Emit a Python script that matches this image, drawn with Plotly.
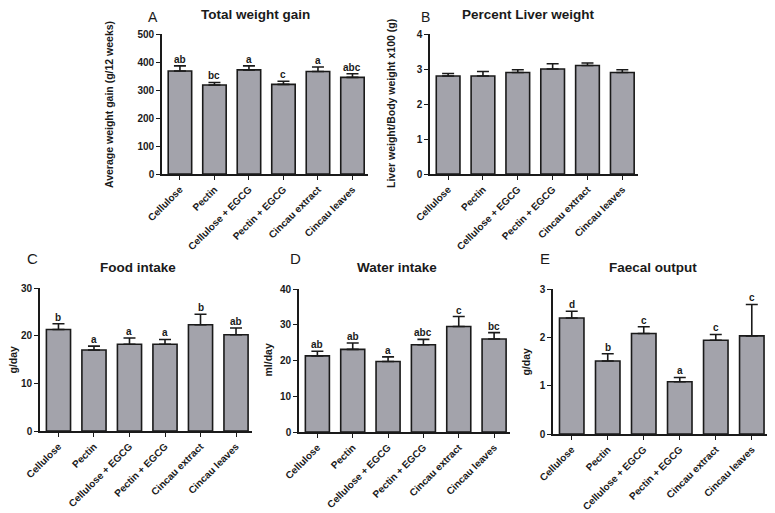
import plotly.graph_objects as go

categories = ["Cellulose", "Pectin", "Cellulose + EGCG", "Pectin + EGCG", "Cincau extract", "Cincau leaves"]

weight_gain = [368, 318, 372, 320, 366, 345]
weight_gain_err = [18, 9, 14, 11, 16, 13]
weight_gain_sig = ["ab", "bc", "a", "c", "a", "abc"]

liver_pct = [2.8, 2.8, 2.9, 3.0, 3.1, 2.9]
liver_pct_err = [0.07, 0.13, 0.08, 0.15, 0.07, 0.08]

food_intake = [21.3, 17.0, 18.2, 18.2, 22.3, 20.2]
food_intake_err = [1.2, 0.8, 1.3, 1.0, 2.2, 1.4]
food_intake_sig = ["b", "a", "a", "a", "b", "ab"]

water_intake = [21.3, 23.1, 19.7, 24.4, 29.5, 26.0]
water_intake_err = [1.3, 1.8, 1.3, 1.5, 2.8, 1.8]
water_intake_sig = ["ab", "ab", "a", "abc", "c", "bc"]

faecal_output = [2.40, 1.51, 2.08, 1.08, 1.94, 2.03]
faecal_output_err = [0.14, 0.15, 0.14, 0.09, 0.12, 0.65]
faecal_output_sig = ["d", "b", "c", "a", "c", "c"]

W, H = 775, 513
OFF = 8  # page body margin offset
FONT = "Liberation Sans, Arial, sans-serif"
BAR = "#a3a3ab"
INK = "#1a1a1a"

def px_x(p):
    return (p - OFF) / W

def px_y(p):
    return 1 - (p - OFF) / H

panels = [
    dict(v=weight_gain, e=weight_gain_err, s=weight_gain_sig, xd=(162, 368), yd=(174, 34), yr=500, dt=100,
         t="Total weight gain", tp=(255, 14), L="A", lp=(153, 12), yt="Average weight gain (g/12 weeks)", ytx=109),
    dict(v=liver_pct, e=liver_pct_err, s=None, xd=(430, 638), yd=(174, 34), yr=4, dt=1,
         t="Percent Liver weight", tp=(528, 14), L="B", lp=(425, 12), yt="Liver weight/Body weight x100 (g)", ytx=391),
    dict(v=food_intake, e=food_intake_err, s=food_intake_sig, xd=(40, 252), yd=(431, 288), yr=30, dt=10,
         t="Food intake", tp=(138, 267), L="C", lp=(32, 258), yt="g/day", ytx=12),
    dict(v=water_intake, e=water_intake_err, s=water_intake_sig, xd=(299, 510), yd=(432, 289), yr=40, dt=10,
         t="Water intake", tp=(397, 267), L="D", lp=(295, 258), yt="ml/day", ytx=267),
    dict(v=faecal_output, e=faecal_output_err, s=faecal_output_sig, xd=(553, 768), yd=(434, 289), yr=3, dt=1,
         t="Faecal output", tp=(653, 267), L="E", lp=(545, 258), yt="g/day", ytx=525),
]

fig = go.Figure()
annotations = []
layout = {}

for i, p in enumerate(panels):
    n = "" if i == 0 else str(i + 1)
    xa, ya = "x" + n, "y" + n
    fig.add_trace(go.Bar(
        x=categories, y=p["v"], xaxis=xa, yaxis=ya,
        marker=dict(color=BAR, line=dict(color=INK, width=1.6)),
        width=0.68,
        error_y=dict(type="data", symmetric=False, array=p["e"], arrayminus=[0] * 6,
                     color=INK, thickness=1.6, width=6),
        showlegend=False, hoverinfo="skip",
    ))
    layout["xaxis" + n] = dict(
        domain=[px_x(p["xd"][0]), px_x(p["xd"][1])], anchor=ya, automargin=False,
        range=[-0.52, 5.45], showline=True, linecolor=INK, linewidth=1.6,
        ticks="outside", ticklen=4, tickwidth=1.2, tickcolor=INK,
        tickangle=-45, tickfont=dict(family=FONT, size=10, color=INK, weight="bold"),
        showgrid=False, zeroline=False, fixedrange=True,
    )
    layout["yaxis" + n] = dict(
        domain=[px_y(p["yd"][0]), px_y(p["yd"][1])], anchor=xa, automargin=False,
        range=[0, p["yr"]], dtick=p["dt"], showline=True, linecolor=INK, linewidth=1.6,
        ticks="outside", ticklen=4, tickwidth=1.2, tickcolor=INK,
        tickfont=dict(family=FONT, size=10, color=INK, weight="bold"),
        showgrid=False, zeroline=False, fixedrange=True,
    )
    annotations.append(dict(x=px_x(p["tp"][0]), y=px_y(p["tp"][1]), xref="paper", yref="paper",
                            text="<b>" + p["t"] + "</b>", showarrow=False,
                            font=dict(family=FONT, size=13.5, color=INK), xanchor="center", yanchor="middle"))
    if p["lp"][1] < 30:
        annotations.append(dict(x=px_x(p["lp"][0]), y=1.0, xref="paper", yref="paper",
                                text=p["L"], showarrow=False, borderpad=0,
                                font=dict(family=FONT, size=14, color=INK), xanchor="center", yanchor="top"))
    else:
        annotations.append(dict(x=px_x(p["lp"][0]), y=px_y(p["lp"][1]), xref="paper", yref="paper",
                                text=p["L"], showarrow=False,
                                font=dict(family=FONT, size=15, color=INK), xanchor="center", yanchor="middle"))
    ymid = (p["yd"][0] + p["yd"][1]) / 2
    annotations.append(dict(x=px_x(p["ytx"]), y=px_y(ymid), xref="paper", yref="paper",
                            text="<b>" + p["yt"] + "</b>", showarrow=False, textangle=-90,
                            font=dict(family=FONT, size=10.5, color=INK), xanchor="center", yanchor="middle"))
    if p["s"]:
        for c, v, e, s in zip(categories, p["v"], p["e"], p["s"]):
            annotations.append(dict(x=c, y=v + e, xref=xa, yref=ya, text="<b>" + s + "</b>",
                                    showarrow=False, yanchor="bottom", yshift=-1,
                                    font=dict(family=FONT, size=10, color=INK)))

fig.update_layout(
    width=W, height=H, margin=dict(l=0, r=0, t=0, b=0, autoexpand=False),
    paper_bgcolor="white", plot_bgcolor="white",
    annotations=annotations, bargap=0.3,
    **layout,
)

fig.write_html("out.html")
